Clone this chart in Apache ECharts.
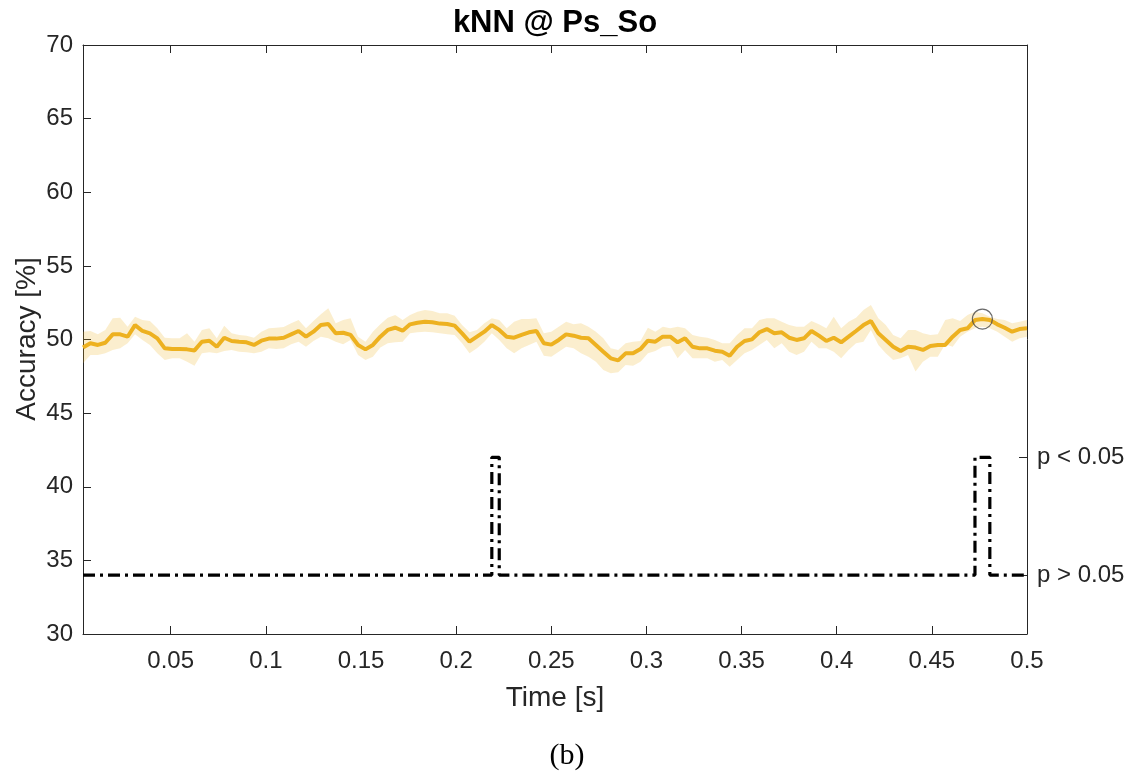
<!DOCTYPE html>
<html>
<head>
<meta charset="utf-8">
<script src="https://cdn.jsdelivr.net/npm/echarts@6/dist/echarts.min.js"></script>
<style>
html,body{margin:0;padding:0;background:#fff;}
#chart{width:1135px;height:775px;}
</style>
</head>
<body>
<div id="chart"></div>
<script>
// ---- data ----
const sampleRate = 256; // samples per second, samples 1..128
const meanAcc = [49.45,49.74,49.63,49.78,50.35,50.35,50.19,50.98,50.58,50.42,50.08,49.40,49.35,49.35,49.33,49.26,49.85,49.92,49.51,50.12,
49.90,49.85,49.81,49.63,49.92,50.06,50.06,50.12,50.35,50.58,50.19,50.53,50.98,51.05,50.42,50.46,50.31,49.63,49.33,49.63,
50.19,50.65,50.80,50.60,51.03,51.14,51.21,51.17,51.08,51.05,50.94,50.42,49.85,50.19,50.53,50.98,50.65,50.19,50.12,50.31,
50.49,50.58,49.74,49.65,49.97,50.35,50.26,50.12,50.08,49.63,49.17,48.72,48.58,49.06,49.06,49.35,49.92,49.85,50.19,50.19,
49.81,50.08,49.51,49.40,49.40,49.24,49.17,48.90,49.51,49.90,50.01,50.49,50.71,50.42,50.49,50.12,49.97,50.08,50.58,50.26,
49.90,50.12,49.81,50.19,50.58,50.98,51.26,50.42,49.97,49.51,49.22,49.51,49.45,49.29,49.56,49.63,49.63,50.19,50.65,50.76,
51.32,51.39,51.32,51.03,50.80,50.53,50.71,50.76];
const upperAcc = [50.53,50.58,50.35,50.65,51.44,51.48,50.87,51.55,51.32,51.26,50.76,50.12,50.08,50.08,50.42,49.85,50.65,50.76,50.08,50.94,
50.42,50.31,50.26,50.12,50.53,50.76,50.80,50.85,51.10,51.32,50.76,51.26,51.71,52.12,51.10,51.32,51.44,50.19,49.85,50.53,
51.03,51.48,51.66,51.32,51.66,51.89,52.00,51.94,51.78,51.78,51.62,50.98,50.49,50.65,51.10,51.44,51.32,50.76,51.21,51.39,
51.39,51.44,50.42,50.53,50.87,51.21,51.03,51.10,50.87,50.53,50.08,49.40,49.29,49.74,49.85,49.90,50.80,50.53,50.87,50.76,
50.87,50.76,50.31,50.19,50.12,49.97,49.74,49.74,50.31,50.76,50.76,51.32,51.44,51.44,51.21,50.98,50.87,50.87,51.26,51.03,
50.76,51.55,50.76,51.21,51.48,52.00,52.34,51.44,50.98,50.31,50.08,50.65,50.65,50.42,50.31,50.35,51.32,51.44,51.26,51.66,
51.89,51.78,51.55,51.39,51.32,51.10,51.21,51.32];
const lowerAcc = [48.38,48.95,48.95,49.06,49.29,49.40,49.74,50.35,49.97,49.63,49.06,48.61,48.72,48.72,48.49,48.22,49.06,49.13,49.06,49.22,
49.29,49.17,49.13,49.06,49.17,49.40,49.35,49.40,49.67,49.85,49.51,49.90,50.19,50.08,49.85,49.67,49.97,48.95,48.61,48.83,
49.45,49.74,49.81,49.85,50.42,50.49,50.53,50.49,50.42,50.35,50.31,49.74,49.06,49.40,49.85,50.42,49.97,49.40,49.06,49.40,
49.63,49.85,48.90,48.83,49.17,49.51,49.40,49.06,48.83,48.49,47.93,47.70,47.77,48.27,48.22,48.49,49.06,49.22,49.51,49.58,
48.72,49.29,48.72,48.72,48.72,48.49,48.61,48.15,48.61,49.06,49.29,49.63,49.97,49.40,49.74,49.17,48.95,49.17,49.85,49.40,
49.40,49.17,48.72,49.29,49.74,49.85,50.65,49.63,49.06,48.61,48.72,48.95,47.82,48.49,48.83,48.83,49.67,49.51,50.19,50.53,
50.76,50.87,50.76,50.53,50.19,49.85,50.08,50.19];
const significantSamples = [56, 121, 122];   // sample numbers with p < 0.05
const sigLevels = [34, 42];                  // drawing levels: p > 0.05, p < 0.05
const sigLabels = ['p > 0.05', 'p < 0.05'];
const peakSample = 122;                       // circled maximum
const xTicks = [0.05, 0.1, 0.15, 0.2, 0.25, 0.3, 0.35, 0.4, 0.45, 0.5];

// ---- build ----
const times = meanAcc.map((_, i) => (i + 1) / sampleRate);
const meanData = times.map((t, i) => [t, meanAcc[i]]);
const sigData = times.map((t, i) => [t, significantSamples.includes(i + 1) ? sigLevels[1] : sigLevels[0]]);
const peakData = [[times[peakSample - 1], meanAcc[peakSample - 1]]];

const axisColor = '#262626';
const font = '"Liberation Sans", Arial, Helvetica, sans-serif';

const chart = echarts.init(document.getElementById('chart'), null, {renderer: 'canvas'});
chart.setOption({
  animation: false,
  backgroundColor: '#fff',
  grid: {left: 83, right: 108, top: 45, bottom: 141, containLabel: false},
  graphic: [
    {type: 'text', style: {text: 'kNN @ Ps_So', x: 555, y: 23, font: 'bold 31px ' + font, fill: '#000', align: 'center', verticalAlign: 'middle'}},
    {type: 'text', style: {text: '(b)', x: 567, y: 756, font: '30px "Liberation Serif", "DejaVu Serif", serif', fill: '#000', align: 'center', verticalAlign: 'middle'}},
    {type: 'text', x: 27, y: 339, rotation: Math.PI / 2,
      style: {text: 'Accuracy [%]', x: 0, y: 0, font: '28px ' + font, fill: axisColor, align: 'center', verticalAlign: 'middle'}}
  ],
  xAxis: [{
    type: 'value', min: 1 / sampleRate, max: 0.5,
    position: 'bottom',
    name: 'Time [s]', nameLocation: 'middle', nameGap: 50,
    nameTextStyle: {fontFamily: font, fontSize: 28, color: axisColor},
    axisLine: {show: true, lineStyle: {color: axisColor, width: 1}},
    axisTick: {show: true, inside: true, length: 8, customValues: xTicks, lineStyle: {color: axisColor}},
    axisLabel: {show: true, customValues: xTicks, margin: 15, fontFamily: font, fontSize: 24, color: axisColor,
      formatter: v => String(Math.round(v * 100) / 100)},
    splitLine: {show: false}
  }, {
    type: 'value', min: 1 / sampleRate, max: 0.5, position: 'top',
    axisLine: {show: true, lineStyle: {color: axisColor, width: 1}},
    axisTick: {show: true, inside: true, length: 8, customValues: xTicks, lineStyle: {color: axisColor}},
    axisLabel: {show: false},
    splitLine: {show: false}
  }],
  yAxis: [{
    type: 'value', min: 30, max: 70, interval: 5, position: 'left',
    axisLine: {show: true, lineStyle: {color: axisColor, width: 1}},
    axisTick: {show: true, inside: true, length: 8, lineStyle: {color: axisColor}},
    axisLabel: {show: true, margin: 10, fontFamily: font, fontSize: 24, color: axisColor},
    splitLine: {show: false}
  }, {
    type: 'value', min: 30, max: 70, position: 'right',
    axisLine: {show: true, lineStyle: {color: axisColor, width: 1}},
    axisTick: {show: true, inside: true, length: 8, customValues: sigLevels, lineStyle: {color: axisColor}},
    axisLabel: {show: true, customValues: sigLevels, margin: 10, fontFamily: font, fontSize: 24, color: axisColor,
      formatter: v => sigLabels[sigLevels.indexOf(v)]},
    splitLine: {show: false}
  }],
  series: [{
    type: 'custom',
    xAxisIndex: 0, yAxisIndex: 0,
    data: [[times[0], upperAcc[0]]],
    renderItem: (params, api) => {
      const pts = [];
      for (let i = 0; i < times.length; i++) pts.push(api.coord([times[i], upperAcc[i]]));
      for (let i = times.length - 1; i >= 0; i--) pts.push(api.coord([times[i], lowerAcc[i]]));
      return {type: 'polygon', shape: {points: pts}, style: {fill: 'rgba(237,177,32,0.22)', stroke: 'none'}};
    },
    z: 1, silent: true
  }, {
    type: 'line', data: meanData, showSymbol: false, symbol: 'none',
    lineStyle: {color: '#EDB120', width: 4}, z: 3
  }, {
    type: 'line', data: sigData, step: 'end', showSymbol: false, symbol: 'none',
    lineStyle: {color: '#000', width: 3.2, type: [12, 5, 3, 5]}, z: 4
  }, {
    type: 'scatter', data: peakData, symbol: 'circle', symbolSize: 20,
    itemStyle: {color: 'rgba(0,0,0,0)', borderColor: '#444', borderWidth: 1.2}, z: 5
  }]
});
</script>
</body>
</html>
